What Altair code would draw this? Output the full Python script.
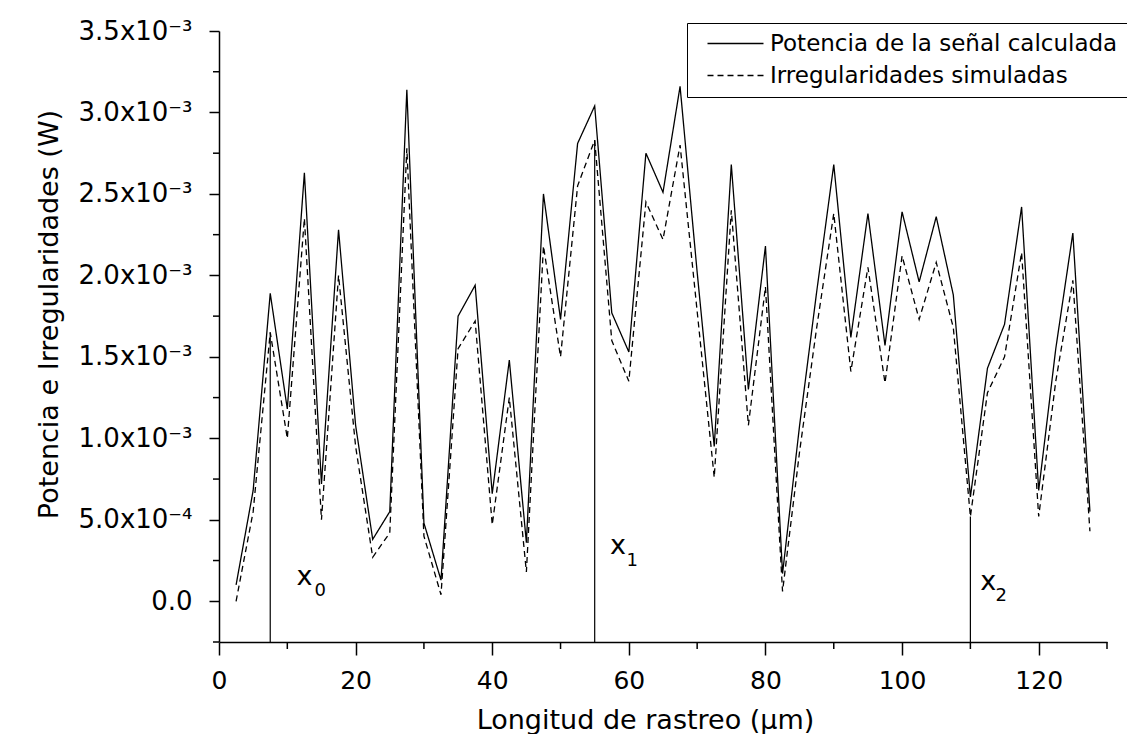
import altair as alt
import pandas as pd

# ---- data (y values in units of 1e-3 W) ----
x_um = [2.5, 5.0, 7.5, 10.0, 12.5, 15.0, 17.5, 20.0, 22.5, 25.0,
        27.5, 30.0, 32.5, 35.0, 37.5, 40.0, 42.5, 45.0, 47.5, 50.0,
        52.5, 55.0, 57.5, 60.0, 62.5, 65.0, 67.5, 70.0, 72.5, 75.0,
        77.5, 80.0, 82.5, 85.0, 87.5, 90.0, 92.5, 95.0, 97.5, 100.0,
        102.5, 105.0, 107.5, 110.0, 112.5, 115.0, 117.5, 120.0, 122.5, 125.0,
        127.5]
potencia = [0.10, 0.68, 1.89, 1.18, 2.63, 0.72, 2.28, 1.08, 0.38, 0.55,
            3.14, 0.48, 0.13, 1.75, 1.94, 0.66, 1.48, 0.36, 2.50, 1.73,
            2.81, 3.04, 1.77, 1.53, 2.75, 2.51, 3.16, 2.02, 0.95, 2.68,
            1.30, 2.18, 0.17, 1.08, 1.90, 2.68, 1.62, 2.38, 1.57, 2.39,
            1.96, 2.36, 1.88, 0.64, 1.43, 1.70, 2.42, 0.68, 1.55, 2.26,
            0.55]
irregular = [0.00, 0.55, 1.65, 1.00, 2.35, 0.50, 2.00, 0.95, 0.27, 0.42,
             2.78, 0.40, 0.04, 1.55, 1.72, 0.47, 1.25, 0.18, 2.18, 1.50,
             2.55, 2.83, 1.60, 1.35, 2.45, 2.22, 2.80, 1.78, 0.76, 2.40,
             1.08, 1.93, 0.06, 0.92, 1.68, 2.38, 1.41, 2.05, 1.34, 2.12,
             1.73, 2.08, 1.68, 0.52, 1.28, 1.50, 2.14, 0.52, 1.35, 1.97,
             0.43]

series_names = ["Potencia de la señal calculada", "Irregularidades simuladas"]

marker_x = [7.5, 55.0, 110.0]
marker_top = [1.65, 2.83, 0.52]
label_x = [12.5, 58.4, 112.6]
label_y = [0.10, 0.29, 0.07]
label_text = ["x", "x", "x"]
sub_x = [14.8, 60.5, 114.5]
sub_y = [0.03, 0.215, 0.0]
sub_text = ["0", "1", "2"]

x_major = [0, 20, 40, 60, 80, 100, 120]
x_minor = [10, 30, 50, 70, 90, 110, 130]
y_major = [0.0, 0.0005, 0.001, 0.0015, 0.002, 0.0025, 0.003, 0.0035]
y_minor = [-0.00025, 0.00025, 0.00075, 0.00125, 0.00175, 0.00225, 0.00275, 0.00325]

E = 1e-3
W, H = 888, 611
FONT = "DejaVu Sans"

df_lines = pd.DataFrame({
    "x": x_um + x_um,
    "y": [v * E for v in potencia] + [v * E for v in irregular],
    "serie": [series_names[0]] * len(x_um) + [series_names[1]] * len(x_um),
})
df_mark = pd.DataFrame({"x": marker_x, "y": [v * E for v in marker_top]})
df_lab = pd.DataFrame({"x": label_x, "y": [v * E for v in label_y], "t": label_text})
df_sub = pd.DataFrame({"x": sub_x, "y": [v * E for v in sub_y], "t": sub_text})
df_xmin = pd.DataFrame({"x": x_minor})
df_ymin = pd.DataFrame({"y": y_minor})

xs = alt.Scale(domain=[0, 130], nice=False, zero=False)
ys = alt.Scale(domain=[-0.00025, 0.0035], nice=False, zero=False)

label_expr = ("datum.value == 0 ? '0.0' : (datum.value < 0.00099 ? "
              "format(datum.value*10000, '.1f') + 'x10\u207b\u2074' : "
              "format(datum.value*1000, '.1f') + 'x10\u207b\u00b3')")

lines = alt.Chart(df_lines).mark_line(color="black", strokeWidth=1.3).encode(
    x=alt.X("x:Q", scale=xs, axis=alt.Axis(
        values=x_major, format="d", title="Longitud de rastreo (\u03bcm)",
        tickSize=13, labelPadding=13, labelFontSize=25, titleFontSize=27,
        titleX=426, titleY=86, titleBaseline="alphabetic", titleAlign="center")),
    y=alt.Y("y:Q", scale=ys, axis=alt.Axis(
        values=y_major, labelExpr=label_expr, title="Potencia e Irregularidades (W)",
        tickSize=10, labelPadding=17, labelFontSize=26, titleFontSize=27,
        titleX=-162, titleY=283, titleAngle=270, titleBaseline="alphabetic",
        titleAlign="center")),
    strokeDash=alt.StrokeDash("serie:N",
        scale=alt.Scale(domain=series_names, range=[[1, 0], [6, 4]]),
        legend=alt.Legend(title=None, orient="none", legendX=468, legendY=-8,
                          symbolType="M-4,0L4,0", symbolSize=196, symbolStrokeWidth=1.3,
                          symbolStrokeColor="black", labelFontSize=23, labelFont=FONT,
                          labelColor="black", labelOffset=23, rowPadding=8, padding=9,
                          strokeColor="black", fillColor="white", symbolOffset=28,
                          labelLimit=600)),
)

markers = alt.Chart(df_mark).mark_rule(color="black", strokeWidth=1.2).encode(
    x=alt.X("x:Q", scale=xs), y=alt.Y("y:Q", scale=ys), y2=alt.value(H))

labels = alt.Chart(df_lab).mark_text(font=FONT, fontSize=27, align="center",
                                     baseline="alphabetic", color="black").encode(
    x=alt.X("x:Q", scale=xs), y=alt.Y("y:Q", scale=ys), text="t:N")

subs = alt.Chart(df_sub).mark_text(font=FONT, fontSize=18, align="center",
                                   baseline="alphabetic", color="black").encode(
    x=alt.X("x:Q", scale=xs), y=alt.Y("y:Q", scale=ys), text="t:N")

xminor = alt.Chart(df_xmin).mark_rule(color="black", strokeWidth=1.5).encode(
    x=alt.X("x:Q", scale=xs), y=alt.value(H), y2=alt.value(H + 7))

yminor = alt.Chart(df_ymin).mark_rule(color="black", strokeWidth=1.5).encode(
    y=alt.Y("y:Q", scale=ys), x=alt.value(0), x2=alt.value(-6))

chart = alt.layer(lines, markers, labels, subs, xminor, yminor).properties(
    width=W, height=H,
    autosize=alt.AutoSizeParams(type="none"),
    padding={"left": 219, "top": 31, "right": 20, "bottom": 92},
    background="white",
).configure_axis(
    domainColor="black", domainWidth=1.5, tickColor="black", tickWidth=1.5,
    labelColor="black", titleColor="black", grid=False, labelFont=FONT,
    titleFont=FONT, titleFontWeight="normal", labelFlush=False, labelOverlap=False,
).configure_view(strokeWidth=0)

chart.save("out.html", embed_options={"renderer": "svg", "actions": False})
